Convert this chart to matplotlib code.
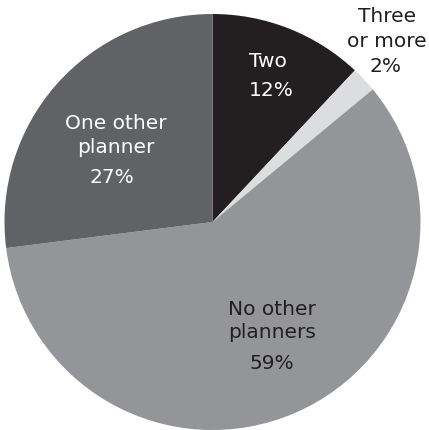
import matplotlib.pyplot as plt
plt.switch_backend('Agg')

labels = ['Two', 'Three\nor more', 'No other\nplanners', 'One other\nplanner']
shares = [12, 2, 59, 27]
colors = ['#231f20', '#dcdddf', '#939598', '#616265']
text_colors = ['white', '#231f20', '#231f20', 'white']

H = 431
fig = plt.figure(figsize=(4.29, 4.31), dpi=100)
ax = fig.add_axes([0, 0, 1, 1])

# pie centre and radius in pixel units (y measured from bottom)
cx, cy, r = 212.5, H - 223, 208
ax.pie(shares, colors=colors, startangle=90, counterclock=False,
       center=(cx, cy), radius=r, frame=True,
       wedgeprops={'linewidth': 0})
ax.set_xlim(0, 429)
ax.set_ylim(0, H)
ax.set_aspect('equal')
ax.axis('off')

# text anchors: x centre, baselines of name lines, baseline of percent
name_x = [268, 387, 272, 116]
name_base = [[67], [22, 47], [315, 338], [129, 153]]
pct_x = [271, 386, 272, 112]
pct_base = [96, 72, 369, 183]

for i in range(len(labels)):
    for line, yb in zip(labels[i].split('\n'), name_base[i]):
        ax.text(name_x[i], H - yb, line, ha='center', va='baseline',
                color=text_colors[i], fontsize=14.5)
    ax.text(pct_x[i], H - pct_base[i], f'{shares[i]}%', ha='center',
            va='baseline', color=text_colors[i], fontsize=14.5)

plt.savefig('out.png', dpi=100)
